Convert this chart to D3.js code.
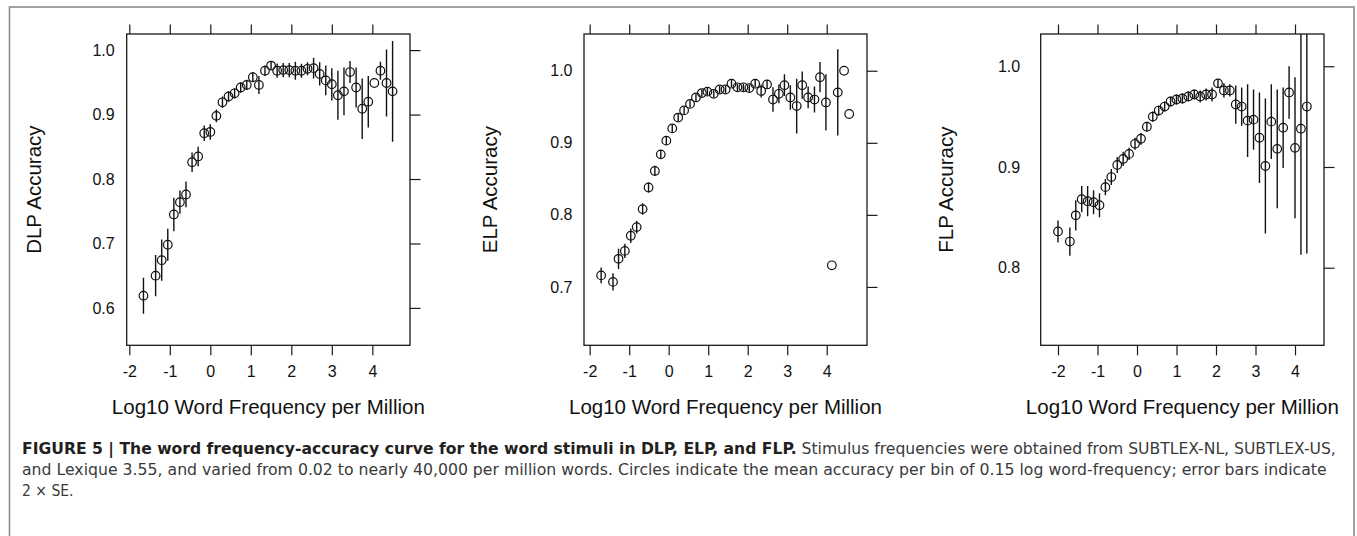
<!DOCTYPE html>
<html>
<head>
<meta charset="utf-8">
<script src="https://cdn.jsdelivr.net/npm/d3@7"></script>
<style>
  body { margin: 0; background: #fff; }
  svg { display: block; }
</style>
</head>
<body>
<div id="fig"></div>
<script>
// binned word frequency (log10 per million), mean accuracy, half length of error bar (2 x SE)
var dlpX = [-1.65, -1.35, -1.2, -1.05, -0.9, -0.75, -0.6, -0.45, -0.3, -0.15, 0, 0.15, 0.3, 0.45, 0.6, 0.75, 0.9, 1.05, 1.2, 1.35,
  1.5, 1.65, 1.8, 1.95, 2.1, 2.25, 2.4, 2.55, 2.7, 2.85, 3.0, 3.15, 3.3, 3.45, 3.6, 3.75, 3.9, 4.05, 4.2, 4.35, 4.5];
var dlpY = [0.619, 0.650, 0.674, 0.698, 0.745, 0.764, 0.776, 0.826, 0.835, 0.871, 0.873, 0.898, 0.919, 0.928, 0.933, 0.942, 0.946, 0.958, 0.946, 0.968,
  0.976, 0.968, 0.969, 0.969, 0.968, 0.968, 0.971, 0.972, 0.963, 0.953, 0.947, 0.930, 0.936, 0.966, 0.942, 0.909, 0.920, 0.949, 0.968, 0.949, 0.936];
var dlpErr = [0.028, 0.032, 0.032, 0.025, 0.026, 0.018, 0.020, 0.015, 0.015, 0.012, 0.012, 0.010, 0.009, 0.008, 0.008, 0.008, 0.008, 0.008, 0.014, 0.008,
  0.006, 0.011, 0.011, 0.011, 0.014, 0.011, 0.010, 0.016, 0.018, 0.023, 0.025, 0.038, 0.037, 0.017, 0.031, 0.047, 0.040, 0, 0.014, 0.052, 0.078];

var elpX = [-1.71, -1.41, -1.27, -1.11, -0.96, -0.81, -0.66, -0.51, -0.35, -0.2, -0.06, 0.09, 0.24, 0.39, 0.54, 0.69, 0.84, 0.98, 1.14, 1.29, 1.44,
  1.59, 1.74, 1.89, 2.04, 2.19, 2.34, 2.49, 2.64, 2.79, 2.93, 3.08, 3.24, 3.38, 3.53, 3.69, 3.83, 3.98, 4.13, 4.28, 4.44, 4.57];
var elpY = [0.716, 0.707, 0.739, 0.750, 0.771, 0.783, 0.808, 0.838, 0.861, 0.884, 0.903, 0.920, 0.935, 0.945, 0.954, 0.963, 0.969, 0.971, 0.968, 0.974, 0.974,
  0.982, 0.977, 0.977, 0.976, 0.982, 0.972, 0.981, 0.960, 0.968, 0.980, 0.963, 0.951, 0.980, 0.963, 0.960, 0.991, 0.956, 0.730, 0.970, 1.000, 0.940];
var elpErr = [0.011, 0.012, 0.014, 0.010, 0.010, 0.009, 0.008, 0.007, 0.007, 0.006, 0.006, 0.005, 0.005, 0.005, 0.005, 0.005, 0.005, 0.005, 0.005, 0.005, 0.005,
  0.005, 0.005, 0.005, 0.005, 0.005, 0.009, 0.006, 0.017, 0.013, 0.015, 0.017, 0.038, 0.019, 0.015, 0.018, 0.021, 0.039, 0, 0.060, 0, 0];

var flpX = [-2.0, -1.7, -1.55, -1.4, -1.25, -1.1, -0.95, -0.8, -0.65, -0.5, -0.35, -0.2, -0.05, 0.1, 0.25, 0.4, 0.55, 0.7, 0.85, 1.0, 1.15,
  1.3, 1.45, 1.6, 1.75, 1.9, 2.05, 2.2, 2.35, 2.5, 2.65, 2.8, 2.95, 3.1, 3.25, 3.4, 3.55, 3.7, 3.85, 4.0, 4.15, 4.3];
var flpY = [0.836, 0.826, 0.852, 0.868, 0.866, 0.865, 0.862, 0.880, 0.890, 0.902, 0.908, 0.913, 0.923, 0.928, 0.940, 0.950, 0.956, 0.960, 0.965, 0.967, 0.968,
  0.970, 0.972, 0.970, 0.972, 0.972, 0.983, 0.976, 0.976, 0.962, 0.960, 0.946, 0.947, 0.929, 0.901, 0.945, 0.918, 0.939, 0.974, 0.919, 0.938, 0.960];
var flpErr = [0.011, 0.014, 0.015, 0.013, 0.015, 0.012, 0.012, 0.008, 0.008, 0.008, 0.007, 0.006, 0.006, 0.006, 0.005, 0.005, 0.005, 0.005, 0.005, 0.005, 0.005,
  0.005, 0.005, 0.006, 0.006, 0.007, 0.004, 0.007, 0.006, 0.019, 0.019, 0.036, 0.030, 0.045, 0.067, 0.037, 0.059, 0.040, 0.026, 0.070, 0.125, 0.146];

var xTicks = [-2, -1, 0, 1, 2, 3, 4];
var dlpTicks = [0.6, 0.7, 0.8, 0.9, 1.0];
var elpTicks = [0.7, 0.8, 0.9, 1.0];
var flpTicks = [0.8, 0.9, 1.0];

var xTitle = "Log10 Word Frequency per Million";
var captionBold = "FIGURE 5 | The word frequency-accuracy curve for the word stimuli in DLP, ELP, and FLP.";
var captionLines = [
  " Stimulus frequencies were obtained from SUBTLEX-NL, SUBTLEX-US,",
  "and Lexique 3.55, and varied from 0.02 to nearly 40,000 per million words. Circles indicate the mean accuracy per bin of 0.15 log word-frequency; error bars indicate",
  "2 \u00d7 SE."
];

var svgWidth = 1357;
var svgHeight = 536;
var plotTop = 34, plotBottom = 345.3;

var svg = d3.select("#fig")
  .append("svg")
  .attr("width", svgWidth)
  .attr("height", svgHeight)
  .style("font-family", "'Liberation Sans', Arial, Helvetica, sans-serif");

// outer figure frame
svg.append("rect")
  .attr("x", 9.5).attr("y", 7)
  .attr("width", 1344.5).attr("height", 560)
  .attr("fill", "none")
  .attr("stroke", "#8c8c8c")
  .attr("stroke-width", 1.6);

var panels = [
  { name: "DLP", xs: dlpX, ys: dlpY, err: dlpErr, yTicks: dlpTicks, left: 126.7, right: 410, xDom: [-2.064, 4.93], yDom: [0.542, 1.025], labelX: 33.5, pad: 12 },
  { name: "ELP", xs: elpX, ys: elpY, err: elpErr, yTicks: elpTicks, left: 584, right: 867, xDom: [-2.144, 5.02], yDom: [0.619, 1.051], labelX: 489.5, pad: 11.5 },
  { name: "FLP", xs: flpX, ys: flpY, err: flpErr, yTicks: flpTicks, left: 1040.7, right: 1324, xDom: [-2.438, 4.734], yDom: [0.723, 1.032], labelX: 946, pad: 20.5 }
];

panels.forEach(function(p, k) {
  var x = d3.scaleLinear().domain(p.xDom).range([p.left, p.right]);
  var y = d3.scaleLinear().domain(p.yDom).range([plotBottom, plotTop]);
  var g = svg.append("g");

  var data = p.xs.map(function(v, i) {
    return { x: v, y: p.ys[i], e: p.err[i] };
  });

  // axes: labels bottom and left, ticks only on top and right
  var bottomAxis = g.append("g")
    .attr("transform", `translate(0, ${plotBottom})`)
    .call(d3.axisBottom(x).tickValues(xTicks).tickSize(10).tickPadding(10).tickFormat(d => String(d)));
  var topAxis = g.append("g")
    .attr("transform", `translate(0, ${plotTop})`)
    .call(d3.axisTop(x).tickValues(xTicks).tickSize(9.5).tickFormat(""));
  var leftAxis = g.append("g")
    .attr("transform", `translate(${p.left}, 0)`)
    .call(d3.axisLeft(y).tickValues(p.yTicks).tickSize(0).tickPadding(p.pad).tickFormat(d => d.toFixed(1)));
  var rightAxis = g.append("g")
    .attr("transform", `translate(${p.right}, 0)`)
    .call(d3.axisRight(y).tickValues(p.yTicks).tickSize(10.5).tickFormat(""));

  [bottomAxis, topAxis, leftAxis, rightAxis].forEach(function(a) {
    a.select(".domain").remove();
    a.selectAll("line").attr("stroke", "#1a1a1a").attr("stroke-width", 1.2);
    a.selectAll("text")
      .attr("fill", "#111")
      .style("font-size", "16px")
      .style("font-family", "'Liberation Sans', Arial, sans-serif");
  });

  g.append("rect")
    .attr("x", p.left).attr("y", plotTop)
    .attr("width", p.right - p.left).attr("height", plotBottom - plotTop)
    .attr("fill", "none")
    .attr("stroke", "#1a1a1a")
    .attr("stroke-width", 1.3);

  g.append("clipPath").attr("id", "clip" + k)
    .append("rect")
    .attr("x", p.left).attr("y", plotTop)
    .attr("width", p.right - p.left).attr("height", plotBottom - plotTop);

  var marks = g.append("g").attr("clip-path", `url(#clip${k})`);

  marks.selectAll("line.err")
    .data(data.filter(d => d.e > 0))
    .enter()
    .append("line")
    .attr("class", "err")
    .attr("x1", d => x(d.x)).attr("x2", d => x(d.x))
    .attr("y1", d => y(d.y - d.e)).attr("y2", d => y(d.y + d.e))
    .attr("stroke", "#111")
    .attr("stroke-width", 1.4);

  marks.selectAll("circle")
    .data(data)
    .enter()
    .append("circle")
    .attr("cx", d => x(d.x))
    .attr("cy", d => y(d.y))
    .attr("r", 4.3)
    .attr("fill", "none")
    .attr("stroke", "#111")
    .attr("stroke-width", 1.2);

  // axis titles
  g.append("text")
    .attr("x", (p.left + p.right) / 2)
    .attr("y", 414)
    .attr("text-anchor", "middle")
    .attr("fill", "#111")
    .style("font-size", "20.5px")
    .text(xTitle);

  g.append("text")
    .attr("transform", `translate(${p.labelX + 7}, ${(plotTop + plotBottom) / 2}) rotate(-90)`)
    .attr("text-anchor", "middle")
    .attr("fill", "#111")
    .style("font-size", "20.5px")
    .text(p.name + " Accuracy");
});

// caption, condensed face squeezed to the measured line widths
var capFont = "'Liberation Sans Narrow', 'DejaVu Sans Condensed', 'Roboto', sans-serif";
var capX = 22;
var capBase = [454, 475, 496];
var capWidth = [1315, 1306, null];

captionLines.forEach(function(line, i) {
  var t = svg.append("text")
    .attr("x", 0).attr("y", 0)
    .attr("transform", `translate(${capX}, ${capBase[i]})`)
    .style("font-family", capFont)
    .style("font-stretch", "condensed")
    .style("font-size", "15.5px");
  if (i === 0) {
    t.append("tspan").attr("font-weight", "bold").attr("fill", "#231f20").text(captionBold);
  }
  t.append("tspan").attr("fill", "#3a3a3a").text(line);
  if (capWidth[i]) {
    var w = t.node().getComputedTextLength();
    t.attr("transform", `translate(${capX}, ${capBase[i]}) scale(${capWidth[i] / w}, 1)`);
  }
});
</script>
</body>
</html>
